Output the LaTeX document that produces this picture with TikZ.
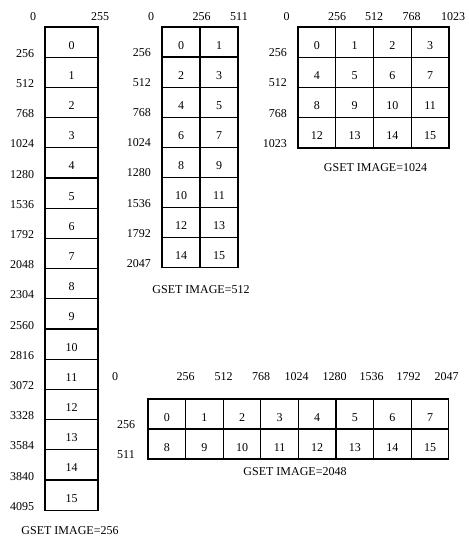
\documentclass[tikz,border=0pt]{standalone}
\usepackage{fontspec}
\setmainfont{Liberation Serif}
\begin{document}
\begin{tikzpicture}[
  x=1pt,y=-1pt,
  cell/.style={draw, line width=1.3pt, inner sep=0pt, text height=14pt, text depth=0pt, font=\fontsize{12}{14}\selectfont},
  lab/.style={inner sep=0pt, anchor=base, font=\fontsize{12}{14}\selectfont}
]
\useasboundingbox (0,0) rectangle (468,537);

% GSET IMAGE=256
\foreach \v [count=\i from 0] in {256,512,768,1024,1280,1536,1792,2048,2304,2560,2816,3072,3328,3584,3840,4095} {
  \node[cell, minimum width=53pt, minimum height=30.2pt] (a\i) at (71.5,{27+30.2*(\i+0.5)}) {\i};
  \node[lab, anchor=base east] (ra\i) at ([xshift=-10pt,yshift=0.5pt]a\i.south west) {\v};
}
\node[lab] (ta0) at (33,20.5) {0};
\node[lab] (ta1) at (100,20.5) {255};
\node[lab] (capa) at (70,534) {GSET IMAGE=256};

% GSET IMAGE=512
\foreach \v [count=\r from 0] in {256,512,768,1024,1280,1536,1792,2047} {
  \foreach \c in {0,1} {
    \pgfmathtruncatemacro\n{2*\r+\c}
    \node[cell, minimum width=38pt, minimum height=30.1pt] (b\n) at ({181+38*\c},{27+30.1*(\r+0.5)}) {\n};
  }
  \node[lab, anchor=base east] (rb\r) at (151,{27+30.1*(\r+1)-0.5}) {\v};
}
\node[lab] (tb0) at (151,20.5) {0};
\node[lab] (tb1) at (201.5,20.5) {256};
\node[lab] (tb2) at (239,20.5) {511};
\node[lab] (capb) at (201,293) {GSET IMAGE=512};

% GSET IMAGE=1024
\foreach \v [count=\r from 0] in {256,512,768,1023} {
  \foreach \c in {0,...,3} {
    \pgfmathtruncatemacro\n{4*\r+\c}
    \node[cell, minimum width=37.75pt, minimum height=30.25pt] (c\n) at ({298+37.75*(\c+0.5)},{27+30.25*(\r+0.5)}) {\n};
  }
  \node[lab, anchor=base east] (rc\r) at (287,{27+30.25*(\r+1)-0.5}) {\v};
}
\foreach \v/\x [count=\i from 0] in {0/286.5,256/337,512/374,768/411.5,1023/453}
  \node[lab] (tc\i) at (\x,20.5) {\v};
\node[lab] (capc) at (375.5,172) {GSET IMAGE=1024};

% GSET IMAGE=2048
\foreach \v [count=\r from 0] in {256,511} {
  \foreach \c in {0,...,7} {
    \pgfmathtruncatemacro\n{8*\r+\c}
    \node[cell, minimum width=37.6pt, minimum height=30pt] (d\n) at ({148+37.6*(\c+0.5)},{399+30*(\r+0.5)}) {\n};
  }
  \node[lab, anchor=base west] (rd\r) at (117,{399+30*(\r+1)-0.5}) {\v};
}
\foreach \v/\x [count=\i from 0] in {0/115,256/185.5,512/223.5,768/261,1024/296.5,1280/334.5,1536/371.5,1792/408.5,2047/446.5}
  \node[lab] (td\i) at (\x,380) {\v};
\node[lab] (capd) at (295,475) {GSET IMAGE=2048};
\end{tikzpicture}
\end{document}
